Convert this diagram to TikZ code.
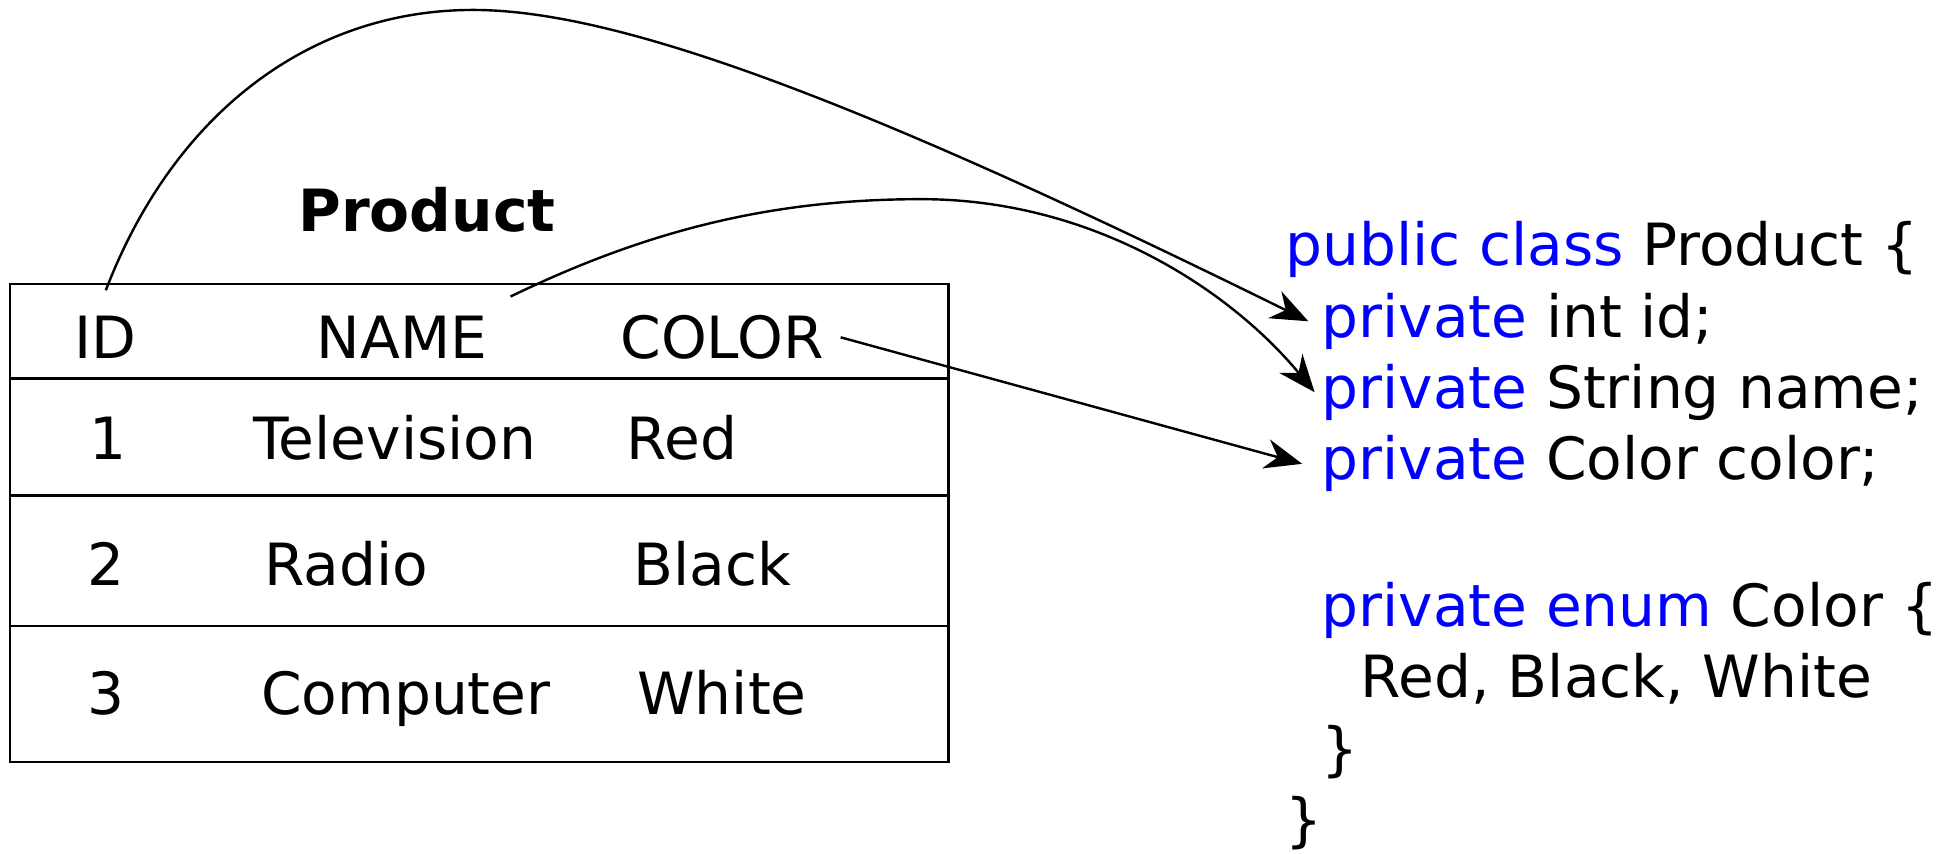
\documentclass[tikz,border=0pt]{standalone}
\usepackage{fontspec}
\setmainfont{DejaVu Sans}
\usetikzlibrary{arrows.meta}

\definecolor{keyword}{RGB}{0,0,255}
\newcommand{\keyw}[1]{\textcolor{keyword}{#1}}

\begin{document}
\begin{tikzpicture}[
  x=0.01cm, y=-0.01cm,
  >={Stealth[length=3mm, width=2.4mm]},
  cell/.style={inner sep=0pt, anchor=base, font=\fontsize{13.3}{16.4}\selectfont},
  tablename/.style={cell, font=\fontsize{13.3}{16.4}\selectfont\bfseries},
  codeline/.style={inner xsep=1.5mm, inner ysep=0pt, anchor=base west, font=\fontsize{13.3}{16.4}\selectfont},
  rule/.style={draw=black, line width=0.6pt},
  link/.style={->, line width=0.55pt}
]
\useasboundingbox (0,0) rectangle (1568,686);

% Table
\node[tablename] (tname) at (343,186) {Product};
\draw[rule] (8,228) rectangle (762,612);
\foreach \y in {304,398,503} {
  \draw[rule] (8,\y) -- (762,\y);
}

\node[cell] (hid) at (85,288) {ID};
\node[cell] (hname) at (323,288) {NAME};
\node[cell] (hcolor) at (580,288) {COLOR};

\foreach \r/\x/\y/\t in {1/87/369/1, 1/317/369/Television, 1/548/369/Red,
                        2/85/470/2, 2/278/470/Radio, 2/572/470/Black,
                        3/85/574/3, 3/326/574/Computer, 3/580/574/White} {
  \node[cell] (r\r-\x) at (\x,\y) {\t};
}

% Java class
\node[codeline] (cls) at (1017,213) {\keyw{public class} Product \{};
\node[codeline] (fid) at (1046,271) {\keyw{private} int id;};
\node[codeline] (fname) at (1046,328) {\keyw{private} String name;};
\node[codeline] (fcolor) at (1046,385.5) {\keyw{private} Color color;};
\node[codeline] (enm) at (1046,503) {\keyw{private enum} Color \{};
\node[codeline] (vals) at (1077,560.5) {Red, Black, White};
\node[codeline] (enmend) at (1046,618) {\}};
\node[codeline] (clsend) at (1017,675.5) {\}};

% Mapping
\draw[link] ([yshift=2mm]hid.north) .. controls (140,90) and (250,8) .. (380,8)
  .. controls (500,8) and (700,85) .. ([xshift=0.5mm]fid.west);
\draw[link] ([xshift=1.8mm, yshift=1.5mm]hname.north east) .. controls (520,185) and (620,160) .. (740,160)
  .. controls (880,160) and (990,235) .. ([xshift=1mm]fname.west);
\draw[link] ([xshift=1.3mm]hcolor.east) -- (fcolor.west);

\end{tikzpicture}
\end{document}
